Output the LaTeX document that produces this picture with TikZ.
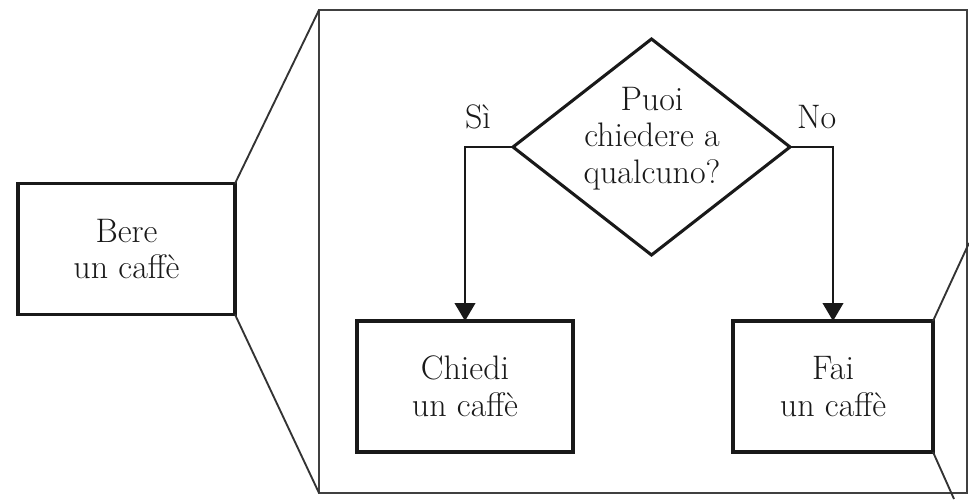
\documentclass[tikz,border=0pt]{standalone}
\usetikzlibrary{arrows.meta,shapes.geometric}
\begin{document}
\begin{tikzpicture}[x=0.75pt,y=-0.75pt,
  every node/.style={font=\fontsize{25.5}{27.5}\selectfont, text=black!90, outer sep=0pt},
  box/.style={draw=black!90, line width=2.6pt, inner sep=0pt, align=center, minimum height=131*0.75pt},
  frame/.style={draw=black!75, line width=1.5pt, inner sep=0pt},
  zoomline/.style={draw=black!80, line width=1.4pt},
  conn/.style={draw=black!90, line width=1.5pt, -{Triangle[length=13.5pt,width=15.5pt]}},
  decision/.style={diamond, draw=black!90, line width=2.3pt, inner sep=0pt, minimum width=277*0.75pt, minimum height=216*0.75pt},
  lbl/.style={inner sep=0pt, anchor=base west}
]
\useasboundingbox (0,0) rectangle (969,499);

% left box and zoom frame
\node[box, minimum width=217*0.75pt] (bere) at (126.5,249) {Bere\\un caff\`e};
\node[frame, minimum width=648*0.75pt, minimum height=483*0.75pt] (frame) at (643,251.5) {};
\draw[zoomline] (bere.north east) -- (frame.north west);
\draw[zoomline] (bere.south east) -- (frame.south west);

% decision
\node[decision] (dia) at (651.5,147) {};
\node[align=center, inner sep=0pt] (q) at (652,138.5) {Puoi\\chiedere a\\qualcuno?};

% outcome boxes
\node[box, minimum width=216*0.75pt] (chiedi) at (465,386.5) {Chiedi\\un caff\`e};
\node[box, minimum width=200*0.75pt] (fai) at (833,386.5) {Fai\\un caff\`e};

% labels
\node[lbl] (si) at (465,128) {S\`i};
\node[lbl] (no) at (797,128) {No};

% connectors
\draw[conn] (dia.west) -| (chiedi.north);
\draw[conn] (dia.east) -| (fai.north);

% next zoom lines leaving the picture
\coordinate (out1) at (969,243);
\coordinate (out2) at (954,499);
\draw[zoomline] (fai.north east) -- (out1);
\draw[zoomline] (fai.south east) -- (out2);
\end{tikzpicture}
\end{document}
